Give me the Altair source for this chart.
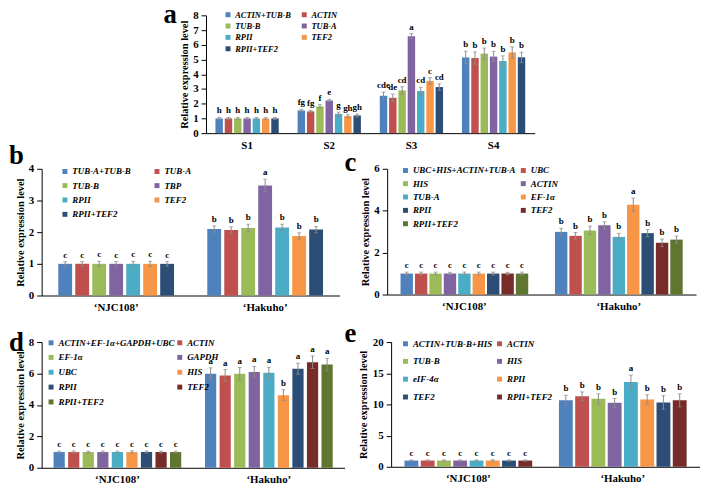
import altair as alt
import pandas as pd

FONT = "Liberation Serif"
BLUE, RED, GREEN, PURPLE = "#4F81BD", "#C0504D", "#9BBB59", "#8064A2"
AQUA, ORANGE, NAVY, DRED, DGREEN = "#4BACC6", "#F79646", "#2C4D75", "#772C2A", "#5F7530"
ERRC = "#8c8c8c"

# ---------------- data ----------------
groups_a = ["S1", "S2", "S3", "S4"]
series_a = ["ACTIN+TUB-B", "ACTIN", "TUB-B", "TUB-A", "RPII", "TEF2", "RPII+TEF2"]
vals_a = [[1.0, 1.0, 1.0, 1.0, 1.0, 1.0, 1.0],
          [1.54, 1.48, 1.82, 2.22, 1.31, 1.16, 1.2],
          [2.54, 2.4, 2.9, 6.58, 2.86, 3.55, 3.13],
          [5.14, 5.1, 5.4, 5.2, 4.9, 5.48, 5.15]]
err_a = [[0.07, 0.07, 0.07, 0.07, 0.07, 0.07, 0.07],
         [0.08, 0.07, 0.12, 0.07, 0.12, 0.1, 0.1],
         [0.25, 0.25, 0.25, 0.18, 0.25, 0.22, 0.22],
         [0.42, 0.42, 0.38, 0.35, 0.35, 0.38, 0.35]]
lets_a = [["h", "h", "h", "h", "h", "h", "h"],
          ["fg", "fg", "f", "e", "g", "gh", "gh"],
          ["cde", "de", "cd", "a", "cd", "c", "cd"],
          ["b", "b", "b", "b", "b", "b", "b"]]

groups_cv = ["\u2018NJC108\u2019", "\u2018Hakuho\u2019"]

series_b = ["TUB-A+TUB-B", "TUB-A", "TUB-B", "TBP", "RPII", "TEF2", "RPII+TEF2"]
vals_b = [[1.0, 1.0, 1.0, 1.0, 1.0, 1.0, 1.0],
          [2.1, 2.07, 2.13, 3.47, 2.15, 1.88, 2.08]]
err_b = [[0.07, 0.07, 0.08, 0.07, 0.08, 0.08, 0.07],
         [0.1, 0.1, 0.12, 0.2, 0.1, 0.1, 0.1]]
lets_b = [["c", "c", "c", "c", "c", "c", "c"],
          ["b", "b", "b", "a", "b", "b", "b"]]

series_c = ["UBC+HIS+ACTIN+TUB-A", "UBC", "HIS", "ACTIN", "TUB-A", "EF-1\u03b1", "RPII", "TEF2", "RPII+TEF2"]
vals_c = [[1.0, 1.0, 1.0, 1.0, 1.0, 1.0, 1.0, 1.0, 1.0],
          [2.99, 2.8, 3.06, 3.3, 2.75, 4.28, 2.93, 2.47, 2.62]]
err_c = [[0.07, 0.07, 0.07, 0.06, 0.07, 0.07, 0.07, 0.06, 0.07],
         [0.17, 0.16, 0.2, 0.17, 0.17, 0.32, 0.17, 0.18, 0.17]]
lets_c = [["c", "c", "c", "c", "c", "c", "c", "c", "c"],
          ["b", "b", "b", "b", "b", "a", "b", "b", "b"]]

series_d = ["ACTIN+EF-1\u03b1+GAPDH+UBC", "ACTIN", "EF-1\u03b1", "GAPDH", "UBC", "HIS", "RPII", "TEF2", "RPII+TEF2"]
vals_d = [[1.0, 1.0, 1.0, 1.0, 1.0, 1.0, 1.0, 1.0, 1.0],
          [5.98, 5.87, 5.98, 6.1, 6.04, 4.62, 6.3, 6.72, 6.57]]
err_d = [[0.06, 0.07, 0.06, 0.06, 0.06, 0.08, 0.06, 0.06, 0.06],
         [0.38, 0.38, 0.4, 0.35, 0.35, 0.35, 0.35, 0.4, 0.4]]
lets_d = [["c", "c", "c", "c", "c", "c", "c", "c", "c"],
          ["a", "a", "a", "a", "a", "b", "a", "a", "a"]]

series_e = ["ACTIN+TUB-B+HIS", "ACTIN", "TUB-B", "HIS", "eIF-4\u03b1", "RPII", "TEF2", "RPII+TEF2"]
vals_e = [[1.0, 1.0, 1.0, 1.0, 1.0, 1.0, 1.0, 1.0],
          [10.65, 11.3, 10.9, 10.25, 13.6, 10.8, 10.3, 10.65]]
err_e = [[0.1, 0.1, 0.1, 0.1, 0.1, 0.12, 0.1, 0.1],
         [0.8, 0.7, 0.8, 0.7, 1.1, 0.75, 1.1, 1.05]]
lets_e = [["c", "c", "c", "c", "c", "c", "c", "c"],
          ["b", "b", "b", "b", "a", "b", "b", "b"]]

colors7 = [BLUE, RED, GREEN, PURPLE, AQUA, ORANGE, NAVY]
colors9 = [BLUE, RED, GREEN, PURPLE, AQUA, ORANGE, NAVY, DRED, DGREEN]
colors8 = [BLUE, RED, GREEN, PURPLE, AQUA, ORANGE, NAVY, DRED]


def panel(groups, series, vals, errs, lets, colors, ymax, yticks, width, height,
          p, q, letter, lxy, leg, pads, title_pad, leg_font=9):
    rows = []
    for gi, g in enumerate(groups):
        for si, s in enumerate(series):
            v = vals[gi][si]
            e = errs[gi][si]
            rows.append(dict(grp=g, ser=s, val=v, lo=v - e, hi=v + e, lab=lets[gi][si]))
    df = pd.DataFrame(rows)
    xenc = alt.X("grp:N", sort=groups, title=None,
                 scale=alt.Scale(paddingInner=p, paddingOuter=p / 2),
                 axis=alt.Axis(labelAngle=0, ticks=False, labelPadding=6, labelFontSize=11))
    xoff = alt.XOffset("ser:N", sort=series, scale=alt.Scale(paddingInner=q, paddingOuter=0))

    def Y(field):
        return alt.Y(field, title="Relative expression level",
                     scale=alt.Scale(domain=[0, ymax], nice=False, zero=True),
                     axis=alt.Axis(values=yticks, grid=False, tickSize=5, labelPadding=3,
                                   titlePadding=title_pad, labelFontSize=11, titleFontSize=10.5))

    # legend fills column-major: order so that it reads row by row
    leg_dom = series[0::2] + series[1::2]
    leg_rng = colors[0::2] + colors[1::2]
    lx, ly, cp, rp = leg
    base = alt.Chart(df)
    bars = base.mark_bar().encode(
        x=xenc, xOffset=xoff, y=Y("val:Q"),
        color=alt.Color("ser:N", scale=alt.Scale(domain=leg_dom, range=leg_rng),
                        legend=alt.Legend(orient="none", legendX=lx, legendY=ly, columns=2,
                                          columnPadding=cp, rowPadding=rp, symbolType="square",
                                          symbolSize=25, symbolStrokeWidth=0, labelFont=FONT,
                                          labelFontStyle="italic", labelFontWeight="bold",
                                          labelFontSize=leg_font, labelColor="black", title=None,
                                          labelOffset=3)))
    rule = base.mark_rule(color=ERRC, strokeWidth=1).encode(x=xenc, xOffset=xoff, y=Y("lo:Q"), y2="hi:Q")
    cap_hi = base.mark_tick(color=ERRC, size=4, thickness=1).encode(x=xenc, xOffset=xoff, y=Y("hi:Q"))
    cap_lo = base.mark_tick(color=ERRC, size=4, thickness=1).encode(x=xenc, xOffset=xoff, y=Y("lo:Q"))
    txt = base.mark_text(dy=-2, baseline="bottom", font=FONT, fontWeight="bold", fontSize=9,
                         color="black").encode(x=xenc, xOffset=xoff, y=Y("hi:Q"), text="lab:N")
    let = alt.Chart(pd.DataFrame({"t": [letter]})).mark_text(
        align="left", baseline="alphabetic", font=FONT, fontWeight="bold", fontSize=27,
        color="black").encode(text="t:N", x=alt.value(lxy[0]), y=alt.value(lxy[1]))
    # invisible frame fixing the panel's layout extent (left, top, right, bottom)
    L, T, R, B = pads
    frame = alt.Chart(pd.DataFrame({"t": [0]})).mark_rule(opacity=0).encode(
        x=alt.value(-L), x2=alt.value(width + R), y=alt.value(-T), y2=alt.value(height + B))
    return alt.layer(bars, rule, cap_lo, cap_hi, txt, let, frame).properties(width=width, height=height)


def indep(c):
    return c.resolve_scale(color="independent", xOffset="independent", x="independent",
                           y="independent").resolve_legend(color="independent")


chart_a = panel(groups_a, series_a, vals_a, err_a, lets_a, colors7, 8, [0, 1, 2, 3, 4, 5, 6, 7, 8],
                332, 119, 0.23, 0.2, "a", (-43, 8), (18, -5, 9, 2.5), (43, 20, 0, 22), 3, leg_font=8.5)
chart_b = panel(groups_cv, series_b, vals_b, err_b, lets_b, colors7, 4, [0, 1, 2, 3, 4],
                301, 128, 0.223, 0.185, "b", (-33, -5), (19, -2, 21, 4.5), (34, 34, 0, 22), 3)
chart_c = panel(groups_cv, series_c, vals_c, err_c, lets_c, colors9, 6, [0, 2, 4, 6],
                312, 127, 0.173, 0.14, "c", (-43, 2), (14, -3, 3, 3.5), (43, 34, 0, 22), 3)
chart_d = panel(groups_cv, series_d, vals_d, err_d, lets_d, colors9, 8, [0, 2, 4, 6, 8],
                306, 127, 0.157, 0.23, "d", (-33, 9), (5, -4, 0, 5), (34, 45, 0, 14), 3)
chart_e = panel(groups_cv, series_e, vals_e, err_e, lets_e, colors8, 20, [0, 5, 10, 15, 20],
                312, 126, 0.173, 0.148, "e", (-47, 0), (10, -3, 2, 8), (47, 45, 0, 14), 4)

spacer = alt.Chart(pd.DataFrame({"t": [0]})).mark_rule(opacity=0).encode(
    x=alt.value(0), y=alt.value(0), y2=alt.value(2)).properties(width=123, height=2)

row_a = indep(alt.hconcat(spacer, chart_a, spacing=0))
row_bc = indep(alt.hconcat(chart_b, chart_c, spacing=5))
row_de = indep(alt.hconcat(chart_d, chart_e, spacing=0))

chart = indep(alt.vconcat(row_a, row_bc, row_de, spacing=-20)).properties(
    padding={"top": -15, "left": 0, "right": 0, "bottom": 0}, background="white"
).configure_view(stroke=None).configure_axis(
    domainColor="black", tickColor="black", labelColor="black", titleColor="black",
    labelFont=FONT, titleFont=FONT, labelFontWeight="bold", titleFontWeight="bold",
    domainWidth=1
)

chart.save("out.html", embed_options={"renderer": "svg", "actions": False})
